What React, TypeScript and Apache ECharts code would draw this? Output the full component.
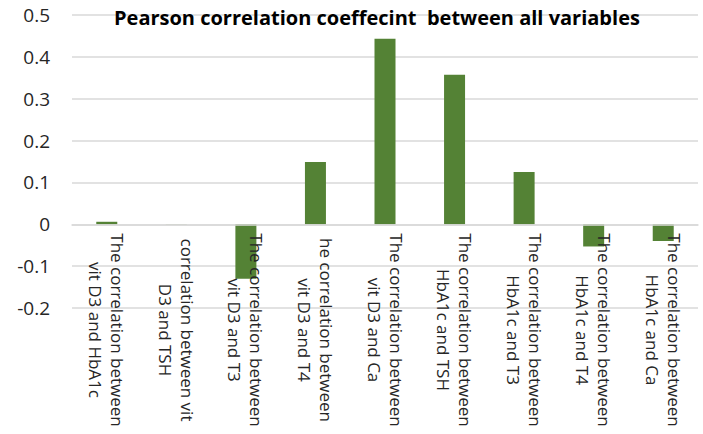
import React, { useEffect, useRef } from "react";
import * as echarts from "echarts";

const categories = [
  "The correlation between\nvit D3 and HbA1c",
  "correlation between vit\nD3 and TSH",
  "The correlation between\nvit D3 and T3",
  "he correlation between\nvit D3 and T4",
  "The correlation between\nvit D3 and Ca",
  "The correlation between\nHbA1c and TSH",
  "The correlation between\nHbA1c and T3",
  "The correlation between\nHbA1c and T4",
  "The correlation between\nHbA1c and Ca",
];
const correlations = [0.006, 0.0005, -0.13, 0.149, 0.443, 0.357, 0.125, -0.053, -0.04];
const titleText = "Pearson correlation coeffecint  between all variables";

export default function App() {
  const ref = useRef<HTMLDivElement>(null);
  useEffect(() => {
    if (!ref.current) return;
    const chart = echarts.init(ref.current, null, { renderer: "svg" });
    chart.setOption({
      animation: false,
      backgroundColor: "#ffffff",
      title: {
        text: titleText,
        left: 114,
        top: 7,
        padding: 0,
        textStyle: { fontFamily: "Open Sans", fontWeight: "bold", fontSize: 20, color: "#000000" },
      },
      grid: { left: 72, right: 5, top: 15, bottom: 126, containLabel: false, outerBoundsMode: "none" },
      xAxis: {
        type: "category",
        data: categories,
        z: 5,
        axisLine: { show: true, onZero: true, lineStyle: { color: "#d9d9d9", width: 1.5 } },
        axisTick: { show: false },
        axisLabel: {
          interval: 0,
          rotate: -90,
          align: "center",
          verticalAlign: "middle",
          margin: 22,
          lineHeight: 22,
          fontFamily: "Open Sans",
          fontSize: 17,
          color: "#262626",
        },
      },
      yAxis: {
        type: "value",
        min: -0.2,
        max: 0.5,
        interval: 0.1,
        axisLine: { show: false },
        axisTick: { show: false },
        splitLine: { lineStyle: { color: "#d9d9d9", width: 1.5 } },
        axisLabel: {
          margin: 22,
          fontFamily: "Open Sans",
          fontSize: 19,
          color: "#262626",
          formatter: (v: number) => {
            const r = Math.round(v * 10) / 10;
            return r === 0 ? "0" : String(r);
          },
        },
      },
      series: [
        {
          type: "bar",
          data: correlations,
          barWidth: 21,
          itemStyle: { color: "#548235" },
        },
      ],
    });
    return () => chart.dispose();
  }, []);
  return (
    <div
      ref={ref}
      style={{ position: "fixed", left: 0, top: 0, width: 703, height: 434 }}
    />
  );
}
